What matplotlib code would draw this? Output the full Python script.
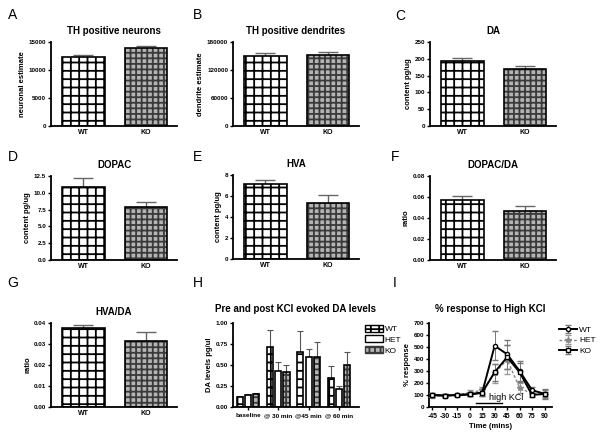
import matplotlib
matplotlib.use("Agg")
import matplotlib.pyplot as plt
from matplotlib.patches import Patch

plt.rcParams['font.family'] = ['Liberation Sans', 'DejaVu Sans']
plt.rcParams['hatch.linewidth'] = 1.3

# data
grupos = ['WT', 'KO']

neuronios = [12300, 13850]
neuronios_err = [400, 350]
dendritos = [149000, 152600]
dendritos_err = [7000, 5800]
da = [192, 170]
da_err = [10, 10]
dopac = [10.84, 7.86]
dopac_err = [1.36, 0.76]
hva = [7.10, 5.35]
hva_err = [0.38, 0.78]
dopac_da = [0.0569, 0.0468]
dopac_da_err = [0.0039, 0.0042]
hva_da = [0.0376, 0.0314]
hva_da_err = [0.0014, 0.0044]

tempos_h = ['baseline', '@ 30 min', '@45 min', '@ 60 min']
h_wt = [0.12, 0.71, 0.66, 0.35]
h_wt_err = [0.01, 0.21, 0.25, 0.14]
h_het = [0.14, 0.43, 0.60, 0.22]
h_het_err = [0.01, 0.10, 0.09, 0.03]
h_ko = [0.16, 0.42, 0.59, 0.50]
h_ko_err = [0.01, 0.08, 0.18, 0.15]

tempo = [-45, -30, -15, 0, 15, 30, 45, 60, 75, 90]
i_wt = [100, 95, 100, 105, 120, 510, 440, 300, 140, 110]
i_wt_err = [15, 15, 10, 15, 30, 120, 120, 80, 30, 40]
i_het = [90, 95, 100, 120, 140, 280, 395, 160, 110, 100]
i_het_err = [15, 10, 10, 25, 30, 80, 120, 40, 20, 25]
i_ko = [100, 95, 100, 105, 120, 290, 415, 290, 100, 110]
i_ko_err = [15, 10, 10, 15, 30, 70, 100, 80, 20, 30]

W, H = 600, 441
fig = plt.figure(figsize=(6, 4.41), dpi=100)

def eixo(x, ytop, w=126, h=84):
    ax = fig.add_axes([x / W, 1 - (ytop + h) / H, w / W, h / H])
    ax.spines['top'].set_visible(False)
    ax.spines['right'].set_visible(False)
    ax.spines['left'].set_linewidth(1.3)
    ax.spines['bottom'].set_linewidth(1.3)
    ax.tick_params(axis='y', direction='out', length=2.5, width=1.0, labelsize=4.5, pad=1)
    ax.tick_params(axis='x', direction='out', length=2.5, width=1.0, labelsize=5, pad=2)
    return ax

def barra(ax, x, y, estilo, largura):
    if estilo == 'WT':
        ax.bar(x, y, largura, color='white', edgecolor='black', hatch='++', linewidth=0, zorder=2)
    elif estilo == 'KO':
        ax.bar(x, y, largura, color='#b4b4b4', edgecolor='#3a3a3a', hatch='+++', linewidth=0, zorder=2)
    else:
        ax.bar(x, y, largura, color='white', linewidth=0, zorder=2)
    ax.bar(x, y, largura, fill=False, edgecolor='black', linewidth=1.2, zorder=3)

def grafico_barras(x, ytop, titulo, ylabel, vals, errs, ymax, ticks, fmt):
    ax = eixo(x, ytop)
    for i in range(2):
        barra(ax, i, vals[i], grupos[i], 0.68)
        ax.errorbar(i, vals[i], yerr=[[0], [errs[i]]], color='#666666', capsize=7,
                    elinewidth=1, capthick=1, zorder=1)
    ax.set_xlim(-0.52, 1.5)
    ax.set_ylim(0, ymax)
    ax.set_yticks(ticks)
    ax.set_yticklabels([fmt.format(t) for t in ticks], fontweight='bold')
    ax.set_xticks([0, 1])
    ax.set_xticklabels(grupos, fontweight='bold')
    ax.tick_params(axis='x', length=0)
    ax.set_title(titulo, fontsize=7, fontweight='bold', pad=6)
    ax.set_ylabel(ylabel, fontsize=5.5, fontweight='bold', labelpad=2)
    return ax

grafico_barras(51, 42, 'TH positive neurons', 'neuronal estimate', neuronios, neuronios_err,
               15000, [0, 5000, 10000, 15000], '{:d}')
grafico_barras(233, 42, 'TH positive dendrites', 'dendrite estimate', dendritos, dendritos_err,
               180000, [0, 60000, 120000, 180000], '{:d}')
grafico_barras(430, 42, 'DA', 'content pg/ug', da, da_err,
               250, [0, 50, 100, 150, 200, 250], '{:d}')
grafico_barras(51, 176, 'DOPAC', 'content pg/ug', dopac, dopac_err,
               12.5, [0, 2.5, 5, 7.5, 10, 12.5], '{:.1f}')
grafico_barras(233, 175, 'HVA', 'content pg/ug', hva, hva_err,
               8, [0, 2, 4, 6, 8], '{:d}')
grafico_barras(430, 176, 'DOPAC/DA', 'ratio', dopac_da, dopac_da_err,
               0.08, [0, 0.02, 0.04, 0.06, 0.08], '{:.2f}')
grafico_barras(51, 323, 'HVA/DA', 'ratio', hva_da, hva_da_err,
               0.04, [0, 0.01, 0.02, 0.03, 0.04], '{:.2f}')

# panel H
ax = eixo(233, 323)
series = [(h_wt, h_wt_err, 'WT'), (h_het, h_het_err, 'HET'), (h_ko, h_ko_err, 'KO')]
for k in range(3):
    vals, errs, nome = series[k]
    for g in range(len(tempos_h)):
        xp = g + (k - 1) * 0.27
        barra(ax, xp, vals[g], nome, 0.2)
        ax.errorbar(xp, vals[g], yerr=[[0], [errs[g]]], color='#555555', capsize=2,
                    elinewidth=0.8, capthick=0.8, zorder=1)
ax.set_xlim(-0.5, 3.67)
ax.set_ylim(0, 1.0)
ax.set_yticks([0, 0.25, 0.5, 0.75, 1.0])
ax.set_yticklabels(['0.00', '0.25', '0.50', '0.75', '1.00'], fontweight='bold')
ax.set_xticks(range(len(tempos_h)))
ax.set_xticklabels(tempos_h, fontweight='bold', fontsize=4.6)
ax.set_title('Pre and post KCl evoked DA levels', fontsize=7, fontweight='bold', pad=8)
ax.set_ylabel('DA levels pg/ul', fontsize=5.5, fontweight='bold', labelpad=2)
handles = [Patch(facecolor='white', edgecolor='black', hatch='++', linewidth=1),
           Patch(facecolor='white', edgecolor='black', linewidth=1),
           Patch(facecolor='#b4b4b4', edgecolor='#3a3a3a', hatch='+++', linewidth=1)]
ax.legend(handles, ['WT', 'HET', 'KO'], loc='upper left', bbox_to_anchor=(1.02, 1.02),
          frameon=False, fontsize=6, handlelength=2.2, handleheight=0.9,
          handletextpad=0.2, labelspacing=0.3, borderaxespad=0)

# panel I
ax = eixo(429, 323, w=123)
ax.errorbar(tempo, i_wt, yerr=i_wt_err, color='black', linewidth=1.4, marker='o', markersize=3,
            markerfacecolor='white', capsize=2, elinewidth=0.7, ecolor='#777777', label='WT', zorder=3)
ax.errorbar(tempo, i_het, yerr=i_het_err, color='#888888', linewidth=1.0, linestyle=(0, (2, 1.5)),
            marker='*', markersize=4, capsize=2, elinewidth=0.7, ecolor='#999999', label='HET', zorder=2)
ax.errorbar(tempo, i_ko, yerr=i_ko_err, color='black', linewidth=1.4, marker='s', markersize=3,
            markerfacecolor='white', capsize=2, elinewidth=0.7, ecolor='#777777', label='KO', zorder=3)
ax.plot([7.5, 39], [31, 31], color='black', linewidth=1.0)
ax.text(23, 80, 'high KCl', fontsize=6.5, ha='left', va='center')
ax.set_xlim(-49, 99)
ax.set_ylim(0, 700)
ax.set_yticks(range(0, 701, 100))
ax.set_xticks(tempo)
ax.set_xticklabels([str(t) for t in tempo], fontweight='bold', fontsize=5)
for t in ax.get_yticklabels():
    t.set_fontweight('bold')
ax.set_title('% response to High KCl', fontsize=7, fontweight='bold', pad=8)
ax.set_ylabel('% response', fontsize=5.5, fontweight='bold', labelpad=2)
ax.set_xlabel('Time (mins)', fontsize=5.5, fontweight='bold', labelpad=2)
ax.legend(loc='upper left', bbox_to_anchor=(1.03, 1.0), frameon=False, fontsize=6,
          handlelength=2.2, handletextpad=0.2, labelspacing=0.3, borderaxespad=0)

# panel letters
letras = [('A', 13, 15), ('B', 198, 15), ('C', 400, 16),
          ('D', 13, 157), ('E', 198, 157), ('F', 395, 157),
          ('G', 13, 283), ('H', 198, 283), ('I', 395, 283)]
for l, x, y in letras:
    fig.text(x / W, 1 - y / H, l, fontsize=10, ha='center', va='center')

fig.savefig('out.png', dpi=100)
